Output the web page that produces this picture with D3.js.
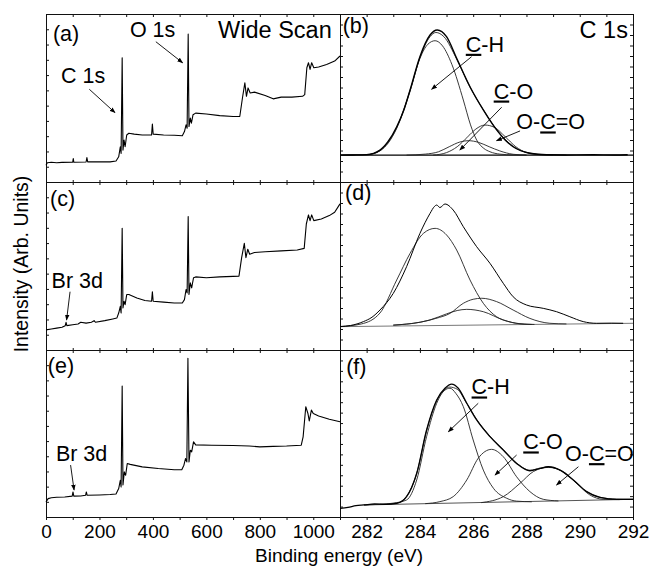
<!DOCTYPE html>
<html>
<head>
<meta charset="utf-8">
<script src="https://cdn.jsdelivr.net/npm/d3@7"></script>
<style>
  body { margin: 0; background: #fff; }
  svg text { font-family: "Liberation Sans", Arial, sans-serif; fill: #000; }
</style>
</head>
<body>
<div id="main"></div>
<script>
// wide scans: [binding energy (eV), intensity (arb.)]
const wideA = [[0,10],[5,11.5],[20,11.8],[40,11.5],[60,11.7],[100,11.8],[102,14],[104,11.8],[150,11.9],[153,14.5],[156,12],[200,12],[240,12],[262,12.5],[272,15],[278,21],[281,17],[285,74],[288,19],[292,25],[296,21],[302,28],[310,29],[330,28.5],[360,28],[395,28],[398,34.5],[401,28.5],[440,28],[480,27.8],[510,27.5],[518,30],[524,34],[528,32],[532,88],[535,33],[540,38],[544,35],[550,40],[560,41],[600,40.5],[650,39.5],[700,39],[725,39],[735,50],[744,59],[750,51],[756,56],[764,53],[780,53.5],[820,51.5],[850,49.5],[880,50.5],[920,50.5],[960,51],[968,52],[976,68],[982,71],[988,67],[994,71],[1002,68],[1020,68.5],[1050,70],[1080,72],[1100,75]];

const wideC = [[0,12],[20,12.5],[40,13],[60,13.5],[72,14.5],[75,16.5],[78,14.5],[100,15],[120,15.5],[130,16.5],[150,16],[170,16.5],[180,17.5],[185,16.5],[220,17.5],[250,18.5],[265,19],[272,22],[278,26],[281,22],[285,72.4],[288,25],[292,29],[296,27],[302,33],[310,33],[340,31],[370,29.5],[395,29],[398,34.7],[401,29],[440,28.5],[480,28],[510,28],[518,30],[524,36],[528,34],[532,79.4],[535,33],[540,40],[545,37],[552,43],[560,43.5],[600,43],[650,43.5],[700,43.8],[722,44],[732,55],[742,63.5],[748,55],[755,60],[762,57],[780,58],[820,58.5],[880,59],[940,59.5],[966,60.5],[974,75],[982,80.4],[988,77],[994,80.4],[1002,77],[1030,78],[1060,80],[1080,82],[1100,87]];

const wideE = [[0,9],[8,11],[20,11.5],[40,11.8],[70,12],[98,12.5],[101,15],[104,12.5],[130,12.6],[148,13],[151,15],[154,13],[200,13.2],[240,13.5],[262,13.8],[272,17],[278,22],[281,18],[285,78.4],[288,19.2],[293,27],[298,25],[304,32],[315,31.5],[360,30],[420,29],[480,28.3],[508,28.3],[516,31],[522,35],[527,33],[531,95],[535,33],[540,40],[545,39],[552,45],[560,43.2],[620,43],[700,42.8],[760,42.5],[800,42],[850,42.3],[900,42.5],[955,43],[962,48],[972,66],[980,62],[985,57.5],[993,64],[1000,62],[1020,60.5],[1060,58.5],[1100,57]];

// C 1s high resolution spectra and fitted components
const c1sDataB = [[281,16],[281.5,16.1],[282,16.3],[282.5,19],[282.8,24],[283.13,32.9],[283.4,43],[283.63,54.8],[284,74.6],[284.38,87.5],[284.65,90.5],[285,86.5],[285.38,73.6],[285.88,56.7],[286.38,42.9],[286.88,31],[287.2,25],[287.5,21],[288.13,17.1],[288.75,16.2],[289.5,16.1],[290.5,16.2],[291.3,16.1],[291.8,16.2]];
const c1sFitB = [[281,16],[282,16.2],[282.5,18.8],[283.13,32.5],[283.63,54.5],[284,74],[284.38,86.5],[284.6,89],[284.9,86.5],[285.38,73.2],[285.88,56.5],[286.38,43],[286.88,31.2],[287.5,21.2],[288.13,17.2],[288.75,16.2],[289.5,16]];
const chB = [[281,16],[282,16.2],[282.5,18.5],[283.13,32],[283.63,54],[284,73.5],[284.3,82],[284.57,84.1],[284.85,81],[285.2,70],[285.63,48.8],[285.9,34],[286.13,25],[286.4,20],[286.63,18],[287,16.6],[287.5,16.1],[288,16]];
const coB = [[283.5,16],[284.2,16.6],[284.7,18],[285.1,21],[285.5,23.8],[285.82,24.6],[286.2,23.6],[286.6,21],[287,18.5],[287.5,16.5],[288,16]];
const occoB = [[284.5,16],[285,17.5],[285.4,21],[285.8,27],[286.1,31.5],[286.44,33.9],[286.8,32.5],[287.2,27],[287.6,21],[288,17.5],[288.5,16.2],[289,16]];
const baseB = [[281,16],[292,16]];

const c1sDataD = [[281,13.9],[281.4,14.6],[281.88,16.9],[282.2,19.5],[282.5,23.8],[283,33.7],[283.5,49.6],[284,69.4],[284.38,81.3],[284.55,85.5],[284.63,86.3],[284.75,84.8],[284.94,86.9],[285.25,83.3],[285.63,73.4],[286.13,61.5],[286.63,51.6],[287.13,39.7],[287.5,31.7],[288,26.8],[288.63,24.8],[289.13,22.8],[289.63,19.8],[290.13,16.9],[290.63,15.9],[291.2,16],[291.63,15.9]];
const chD = [[281,14],[281.8,15.5],[282.5,22],[283.13,41.7],[283.63,57.5],[284.13,69.4],[284.57,72.4],[285,68.5],[285.38,59.5],[285.88,41.7],[286.38,27.8],[286.88,19.8],[287.3,17],[287.63,15.9],[288.2,15.2]];
const coD = [[283,14.8],[284,16.5],[284.6,18.8],[285.13,21.8],[285.63,27.8],[286,30.2],[286.32,30.8],[286.88,28.8],[287.5,23.8],[288.13,18.8],[288.88,15.9],[289.5,15.5]];
const occoD = [[283,14.8],[284.38,17.9],[285,21.5],[285.4,23.5],[285.76,24.2],[286.38,22.8],[287.13,17.9],[287.75,15.6],[288.3,15.2]];
const baseD = [[281,13.9],[292,15.9]];

const c1sDataF = [[281,5.2],[281.3,5.8],[281.6,6.8],[281.9,7.2],[282.3,7.8],[282.7,7.6],[283.13,8.2],[283.5,12.2],[283.88,26.2],[284.25,52.1],[284.63,70.1],[284.94,77.1],[285.19,79.6],[285.44,77.1],[285.76,68.1],[286.13,58.1],[286.63,48.1],[287.13,40.1],[287.63,32.1],[288.13,27.7],[288.51,29.1],[288.82,30.1],[289.26,28.1],[289.76,22.2],[290.26,15.2],[290.76,11.8],[291.39,10.6],[292,10.6]];
const c1sFitF = [[281.9,7.2],[282.5,7.6],[283.13,8.3],[283.5,12.4],[283.88,26],[284.25,51.5],[284.63,69.6],[284.94,76.5],[285.12,77.8],[285.4,76.5],[285.76,68],[286.13,58.4],[286.63,48.4],[287.13,40.3],[287.63,32.3],[288.13,28],[288.51,29.3],[288.82,30],[289.26,28],[289.76,22],[290.26,15.2],[290.76,11.8],[291.39,10.7],[292,10.6]];
const chF = [[282.5,7.6],[283,8.3],[283.5,10.2],[283.88,22.2],[284.25,48.1],[284.63,68.1],[284.94,76],[285.13,77.1],[285.35,74],[285.63,66.1],[286,46.1],[286.38,28.1],[286.76,17.2],[287.26,11.2],[287.63,9.5],[288.2,9.1]];
const coF = [[284.2,8],[284.75,9.2],[285.25,12.2],[285.76,22.2],[286.19,35.2],[286.69,40.5],[287.13,36.1],[287.63,24.1],[288.13,15.2],[288.63,10.6],[289.2,9.6]];
const occoF = [[286.3,8.6],[287.13,12.2],[287.76,20.2],[288.26,27.2],[288.82,29.7],[289.38,27.2],[289.88,20.2],[290.38,13.2],[290.88,10.6],[291.5,10.4]];
const baseF = [[281.9,7.2],[292,10.6]];

// tick labels
const wideTicks = [0, 200, 400, 600, 800, 1000];
const c1sTicks = [282, 284, 286, 288, 290, 292];

const FONT = '"Liberation Sans", Arial, sans-serif';

class XpsPanel {
  constructor(svg, config) {
    this.config = config;
    this.g = svg.append('g');
    this.xScale = d3.scaleLinear().domain(config.xDomain).range([config.left, config.right]);
    this.yScale = d3.scaleLinear().domain([0, 100]).range([config.bottom, config.top]);
    this.createAxis();
  }

  styleAxis(sel) {
    sel.attr('color', '#111').attr('font-size', 19).attr('font-family', FONT);
  }

  createAxis() {
    const c = this.config;

    let top = d3.axisTop(this.xScale).tickValues(c.xMinor).tickSize(-3).tickSizeOuter(0).tickFormat('');
    this.g.append('g').attr('transform', `translate(0,${c.top})`).call(top).call(s => this.styleAxis(s));

    let bottom = d3.axisBottom(this.xScale).tickValues(c.xMinor).tickSizeOuter(0);
    if (c.labels) {
      bottom.tickSize(3).tickPadding(5).tickFormat(d => c.labels.includes(d) ? d : '');
    } else {
      bottom.tickSize(-2).tickFormat('');
    }
    this.g.append('g').attr('transform', `translate(0,${c.bottom})`).call(bottom).call(s => this.styleAxis(s));

    let left = d3.axisLeft(this.yScale).tickValues(c.yTicks).tickSize(-3).tickSizeOuter(0).tickFormat('');
    this.g.append('g').attr('transform', `translate(${c.left},0)`).call(left).call(s => this.styleAxis(s));

    if (c.rightAxis) {
      let right = d3.axisRight(this.yScale).tickValues(c.yTicks).tickSize(-3).tickSizeOuter(0).tickFormat('');
      this.g.append('g').attr('transform', `translate(${c.right},0)`).call(right).call(s => this.styleAxis(s));
    }
  }

  renderLine(points, stroke, width, smooth) {
    let line = d3.line()
      .x(d => this.xScale(d[0]))
      .y(d => this.yScale(d[1]))
      .curve(smooth ? d3.curveMonotoneX : d3.curveLinear);

    this.g.append('path')
      .datum(points)
      .attr('fill', 'none')
      .attr('stroke', stroke)
      .attr('stroke-width', width)
      .attr('stroke-linejoin', 'round')
      .attr('d', line);
  }

  renderText(parts, x, y, size, anchor) {
    let t = this.g.append('text')
      .attr('x', this.xScale(x))
      .attr('y', this.yScale(y))
      .attr('dy', '0.36em')
      .attr('font-size', size)
      .attr('text-anchor', anchor || 'start');
    parts.forEach(p => {
      t.append('tspan')
        .style('text-decoration', p.u ? 'underline' : 'none')
        .text(p.t);
    });
  }

  renderArrow(x1, y1, x2, y2) {
    this.g.append('line')
      .attr('x1', this.xScale(x1)).attr('y1', this.yScale(y1))
      .attr('x2', this.xScale(x2)).attr('y2', this.yScale(y2))
      .attr('stroke', '#000')
      .attr('stroke-width', 0.9)
      .attr('marker-end', 'url(#arrow)');
  }
}

const svg = d3.select('#main').append('svg')
  .attr('width', 650)
  .attr('height', 568);

svg.append('defs').append('marker')
  .attr('id', 'arrow')
  .attr('viewBox', '0 -3 8 6')
  .attr('refX', 7).attr('refY', 0)
  .attr('markerWidth', 6).attr('markerHeight', 5)
  .attr('markerUnits', 'userSpaceOnUse')
  .attr('orient', 'auto')
  .append('path').attr('d', 'M0,-3L8,0L0,3Z').attr('fill', '#000');

const rowBounds = [[14, 182], [182, 350], [350, 517]];
const wideMinor = d3.range(0, 1101, 100);
const c1sMinor = d3.range(281, 293, 1);
const wideY = d3.range(1, 11).map(i => i * 100 / 11);
const c1sY = d3.range(1, 16).map(i => i * 100 / 16);

const U = t => ({t: t, u: true});
const N = t => ({t: t, u: false});
const LBL = 21.5;   // in-panel annotation size
const TTL = 23.5;   // "Wide Scan" / "C 1s" headers

let panels = rowBounds.map((r, i) => {
  let last = i === rowBounds.length - 1;
  let wide = new XpsPanel(svg, {left: 46, right: 340, top: r[0], bottom: r[1],
    xDomain: [0, 1100], xMinor: wideMinor, yTicks: wideY,
    labels: last ? wideTicks : null, rightAxis: false});
  let narrow = new XpsPanel(svg, {left: 340, right: 633, top: r[0], bottom: r[1],
    xDomain: [281, 292], xMinor: c1sMinor, yTicks: c1sY,
    labels: last ? c1sTicks : null, rightAxis: true});
  return [wide, narrow];
});

// (a)
let pa = panels[0][0];
pa.renderLine(wideA, '#000', 1.1, false);
pa.renderText([N('(a)')], 26, 88.7, LBL);
pa.renderText([N('O 1s')], 314, 91, LBL);
pa.renderText([N('Wide Scan')], 1069, 90.5, TTL, 'end');
pa.renderText([N('C 1s')], 56, 63.7, LBL);
pa.renderArrow(162, 55.2, 258, 41.3);
pa.renderArrow(411, 83.5, 511, 71);

// (b)
let pb = panels[0][1];
pb.renderLine(baseB, '#000', 1.2, false);
pb.renderLine(coB, '#222', 0.9, true);
pb.renderLine(occoB, '#222', 0.9, true);
pb.renderLine(chB, '#222', 0.9, true);
pb.renderLine(c1sFitB, '#222', 0.9, true);
pb.renderLine(c1sDataB, '#000', 1.4, true);
pb.renderText([N('(b)')], 281.1, 93.5, LBL);
pb.renderText([N('C 1s')], 291.81, 90.5, TTL, 'end');
pb.renderText([U('C'), N('-H')], 286.44, 82.1, LBL, 'middle');
pb.renderText([U('C'), N('-O')], 287.51, 54.3, LBL, 'middle');
pb.renderText([N('O-'), U('C'), N('=O')], 288.91, 35.9, LBL, 'middle');
pb.renderArrow(285.94, 74.6, 284.44, 55.2);
pb.renderArrow(287.07, 44.5, 285.5, 19);
pb.renderArrow(287.76, 30.4, 286.88, 24.6);

// (c)
let pc = panels[1][0];
pc.renderLine(wideC, '#000', 1.1, false);
pc.renderText([N('(c)')], 15, 90.5, LBL);
pc.renderText([N('Br 3d')], 21, 41.7, LBL);
pc.renderArrow(90, 34.7, 77, 17.9);

// (d)
let pd = panels[1][1];
pd.renderLine(baseD, '#777', 1, false);
pd.renderLine(coD, '#222', 0.9, true);
pd.renderLine(occoD, '#222', 0.9, true);
pd.renderLine(chD, '#222', 0.9, true);
pd.renderLine(c1sDataD, '#000', 1, true);
pd.renderText([N('(d)')], 281.19, 93.6, LBL);

// (e)
let pe = panels[2][0];
pe.renderLine(wideE, '#000', 1.1, false);
pe.renderText([N('(e)')], 7, 91, LBL);
pe.renderText([N('Br 3d')], 37, 38.1, LBL);
pe.renderArrow(92, 31.1, 105, 16.2);

// (f)
let pf = panels[2][1];
pf.renderLine(baseF, '#555', 1, false);
pf.renderLine(coF, '#222', 0.9, true);
pf.renderLine(occoF, '#222', 0.9, true);
pf.renderLine(chF, '#222', 0.9, true);
pf.renderLine(c1sFitF, '#222', 0.9, true);
pf.renderLine(c1sDataF, '#000', 1.3, true);
pf.renderText([N('(f)')], 281.23, 90, LBL);
pf.renderText([U('C'), N('-H')], 285.94, 78, LBL);
pf.renderText([U('C'), N('-O')], 287.88, 45.1, LBL);
pf.renderText([N('O-'), U('C'), N('=O')], 289.45, 38.1, LBL);
pf.renderArrow(286.19, 68.1, 285.07, 51.1);
pf.renderArrow(287.63, 37.1, 286.82, 25.1);
pf.renderArrow(289.95, 30.1, 289.13, 19.2);

// axis titles
svg.append('text')
  .attr('x', 339)
  .attr('y', 562)
  .attr('font-size', 19)
  .attr('text-anchor', 'middle')
  .text('Binding energy (eV)');

svg.append('text')
  .attr('transform', 'translate(28,264)rotate(-90)')
  .attr('font-size', 19.5)
  .attr('text-anchor', 'middle')
  .text('Intensity (Arb. Units)');
</script>
</body>
</html>
